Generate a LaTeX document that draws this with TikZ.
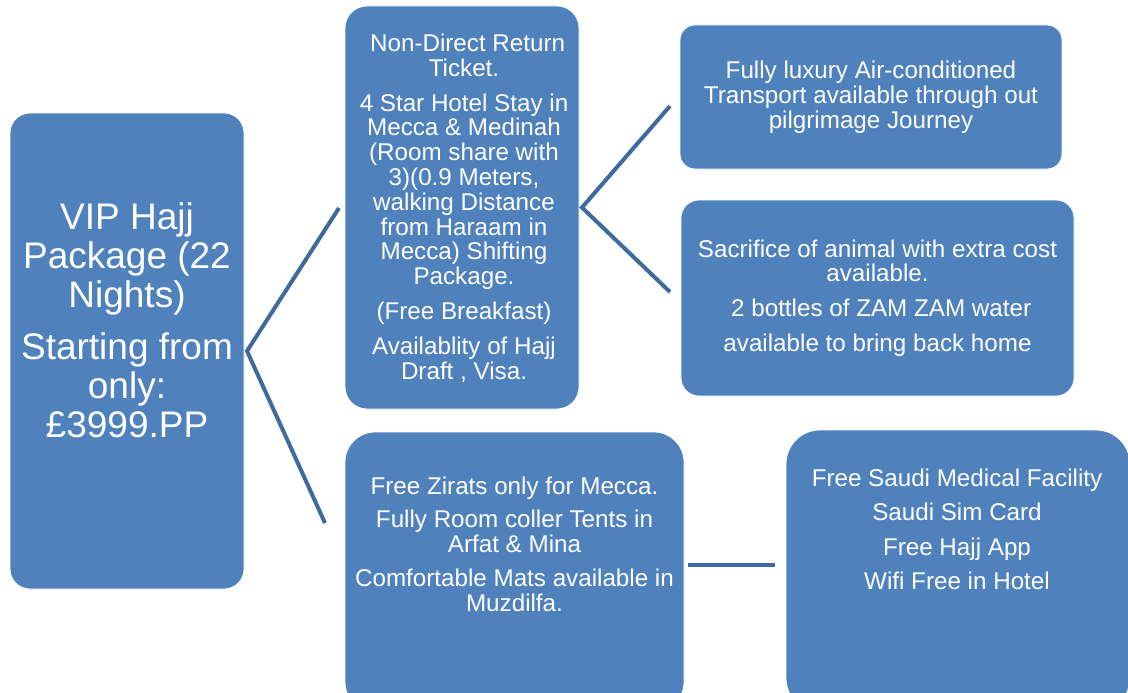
\documentclass[tikz,border=0pt]{standalone}
\usepackage{fontspec}
\setmainfont{Liberation Sans}
\begin{document}
\begin{tikzpicture}[x=1pt,y=-1pt,
  box/.style={fill=boxblue, draw=white, line width=0.8pt, inner sep=0pt, outer sep=0pt},
  conn/.style={draw=lineblue, line width=4pt},
  txt/.style={text=white, align=center, inner sep=0pt},
  mid/.style={txt, font=\fontsize{24.2}{24.8}\selectfont},
  big/.style={txt, font=\fontsize{37}{39}\selectfont}]
\definecolor{boxblue}{HTML}{4F81BD}
\definecolor{lineblue}{HTML}{3F6A9E}
\useasboundingbox (0,0) rectangle (1128,693);
\clip (0,0) rectangle (1128,693);
% boxes
\node[box, minimum width=234, minimum height=476, rounded corners=20] (A) at (127,351) {};
\node[box, minimum width=234, minimum height=403, rounded corners=22] (B) at (462,207.5) {};
\node[box, minimum width=382, minimum height=144, rounded corners=15] (C) at (871,97) {};
\node[box, minimum width=393, minimum height=196, rounded corners=18] (D) at (877.5,298) {};
\node[box, minimum width=339, minimum height=280, rounded corners=30] (E) at (514.5,572) {};
\node[box, minimum width=344, minimum height=282, rounded corners=34] (F) at (958,571) {};
% texts
\node[big] (At) at (127,320) {VIP Hajj\\Package (22\\Nights)\\[13pt]Starting from\\only:\\\pounds3999.PP};
\node[mid] (Bt) at (464,208) {\hspace{0.3em}Non-Direct Return\\Ticket.\\[10pt]4 Star Hotel Stay in\\Mecca \& Medinah\\(Room share with\\3)(0.9 Meters,\\walking Distance\\from Haraam in\\Mecca) Shifting\\Package.\\[10pt](Free Breakfast)\\[10pt]Availablity of Hajj\\Draft , Visa.};
\node[mid] (Ct) at (871,97.5) {Fully luxury Air-conditioned\\Transport available through out\\pilgrimage Journey};
\node[mid] (Dt) at (877.5,298) {Sacrifice of animal with extra cost\\available.\\[10pt]\hspace{0.3em}2 bottles of ZAM ZAM water\\[10pt]available to bring back home};
\node[mid] (Et) at (514.5,544) {Free Zirats only for Mecca.\\[9pt]Fully Room coller Tents in\\Arfat \& Mina\\[9pt]Comfortable Mats available in\\Muzdilfa.};
\node[mid] (Ft) at (957,529.5) {Free Saudi Medical Facility\\[9.7pt]Saudi Sim Card\\[9.7pt]Free Hajj App\\[9.7pt]Wifi Free in Hotel};
% connectors
\coordinate (a1) at (339,208);
\coordinate (a2) at (325,523);
\draw[conn] (a1) -- ([xshift=3pt]A.east) -- (a2);
\coordinate (b1) at (670,106);
\coordinate (b2) at (670,292);
\draw[conn] (b1) -- ([xshift=3pt]B.east) -- (b2);
\coordinate (e1) at (775,565);
\draw[conn] ([xshift=4pt]E.east |- e1) -- (e1);
\end{tikzpicture}
\end{document}
